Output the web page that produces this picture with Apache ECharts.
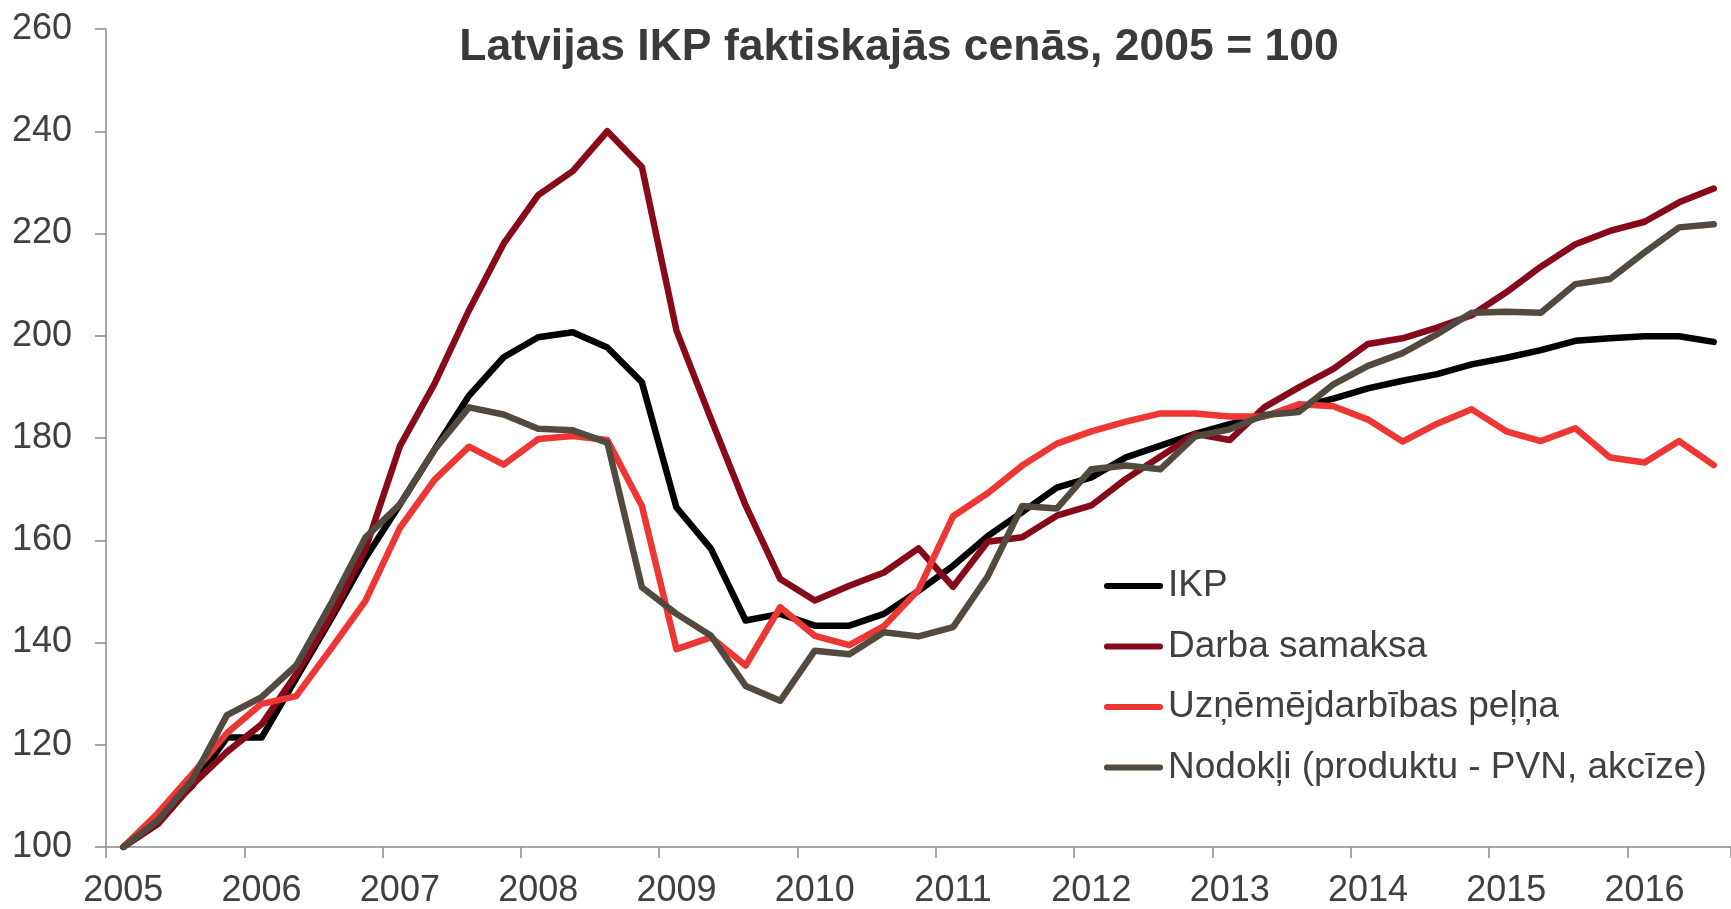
<!DOCTYPE html>
<html>
<head>
<meta charset="utf-8">
<title>Latvijas IKP faktiskajās cenās</title>
<script src="https://cdn.jsdelivr.net/npm/echarts@6/dist/echarts.min.js"></script>
<style>
  html, body { margin: 0; padding: 0; background: #fff; }
  #chart { width: 1731px; height: 909px; }
</style>
</head>
<body>
<div id="chart"></div>
<script>
var colors = ['#000000', '#870a1b', '#ee3634', '#534a3f'];
var textColor = '#404040';

// quarters 2005 Q1 .. 2016 Q3
var quarters = [];
for (var y = 2005; y <= 2016; y++) {
    for (var q = 1; q <= 4; q++) {
        if (y === 2016 && q > 3) break;
        quarters.push(y + ' Q' + q);
    }
}

var seriesNames = ['IKP', 'Darba samaksa', 'Uzņēmējdarbības peļņa', 'Nodokļi (produktu - PVN, akcīze)'];

var ikp = [100, 105.5, 112, 121.4, 121.4, 133, 144.5, 156.5, 167, 177.7, 188.3, 195.8,
    199.7, 200.7, 197.7, 190.9, 166.4, 158.3, 144.3, 145.6, 143.3, 143.3, 145.6, 150.1,
    155, 160.8, 165.5, 170.3, 172.3, 176.2, 178.5, 180.8, 182.7, 184.3, 186, 187.7,
    189.7, 191.2, 192.5, 194.4, 195.7, 197.2, 199, 199.5, 199.9, 199.9, 198.8];

var darbaSamaksa = [100, 104.5, 112.2, 118.6, 124, 133.8, 145, 158.2, 178.4, 190.6, 205, 218,
    227.5, 232.2, 240, 233, 201, 183.7, 166.8, 152.4, 148.2, 151.1, 153.7, 158.4,
    150.9, 159.7, 160.6, 164.8, 166.8, 172, 176.4, 180.8, 179.6, 186, 189.9, 193.5,
    198.4, 199.5, 201.6, 204, 208.5, 213.5, 217.9, 220.5, 222.3, 226.1, 228.8];

var pelna = [100, 106.6, 114.3, 122.3, 128, 129.5, 138.7, 148.1, 162.4, 171.8, 178.3, 174.8,
    179.8, 180.4, 179.6, 166.7, 138.7, 141, 135.5, 146.9, 141.3, 139.5, 143.2, 150.3,
    164.7, 169.2, 174.6, 178.9, 181.3, 183.2, 184.8, 184.8, 184.2, 184.2, 186.6, 186.2,
    183.6, 179.3, 182.8, 185.6, 181.3, 179.4, 181.9, 176.2, 175.2, 179.4, 174.7];

var nodokli = [100, 105.2, 113.2, 125.8, 129.3, 135.5, 147.5, 160.5, 167, 177.7, 186, 184.6,
    181.8, 181.5, 179.1, 150.8, 145.6, 141.3, 131.5, 128.6, 138.4, 137.7, 142, 141.2,
    143, 152.9, 166.7, 166.2, 173.9, 174.6, 173.9, 180.3, 181.7, 184.5, 185.1, 190.5,
    194.1, 196.6, 200.3, 204.5, 204.7, 204.5, 210.1, 211.1, 216.3, 221.2, 221.8];

var allData = [ikp, darbaSamaksa, pelna, nodokli];

function makeSeries(idx) {
    return {
        name: seriesNames[idx],
        type: 'line',
        data: allData[idx],
        color: colors[idx],
        symbol: 'none',
        smooth: false,
        lineStyle: { width: 6.5, color: colors[idx], join: 'round', cap: 'round' }
    };
}

var myChart = echarts.init(document.getElementById('chart'), null, { renderer: 'canvas' });

var option = {
    animation: false,
    backgroundColor: '#ffffff',
    title: {
        text: 'Latvijas IKP faktiskajās cenās, 2005 = 100',
        left: 894,
        top: 20,
        textAlign: 'center',
        textStyle: {
            fontFamily: 'Liberation Sans, Arial, sans-serif',
            fontWeight: 'bold',
            fontSize: 44.5,
            color: '#3a3a3a'
        }
    },
    legend: {
        orient: 'vertical',
        left: 1104,
        top: 566,
        padding: 0,
        itemWidth: 59,
        itemHeight: 7,
        itemGap: 20.5,
        icon: 'path://M3,0 L56,0 A3,3 0 0 1 56,6 L3,6 A3,3 0 0 1 3,0 Z',
        textStyle: {
            fontFamily: 'Liberation Sans, Arial, sans-serif',
            fontSize: 37,
            lineHeight: 40,
            color: textColor
        },
        data: seriesNames
    },
    grid: {
        left: 106,
        top: 29,
        width: 1637,
        height: 819,
        containLabel: false
    },
    xAxis: {
        type: 'category',
        data: quarters,
        boundaryGap: true,
        axisLine: { lineStyle: { color: '#8a8a8a', width: 1.5 } },
        axisTick: { show: true, interval: 3, length: 11, lineStyle: { color: '#8a8a8a', width: 1.5 } },
        axisLabel: {
            interval: 3,
            margin: 26,
            fontFamily: 'Liberation Sans, Arial, sans-serif',
            fontSize: 36,
            color: textColor,
            formatter: function (v) { return v.slice(0, 4); }
        },
        splitLine: { show: false }
    },
    yAxis: {
        type: 'value',
        min: 100,
        max: 260,
        interval: 20,
        axisLine: { show: true, lineStyle: { color: '#8a8a8a', width: 1.5 } },
        axisTick: { show: true, length: 11, lineStyle: { color: '#8a8a8a', width: 1.5 } },
        axisLabel: {
            margin: 34,
            fontFamily: 'Liberation Sans, Arial, sans-serif',
            fontSize: 36,
            color: textColor
        },
        splitLine: { show: false }
    },
    series: [makeSeries(0), makeSeries(1), makeSeries(2), makeSeries(3)]
};

myChart.setOption(option);
</script>
</body>
</html>
